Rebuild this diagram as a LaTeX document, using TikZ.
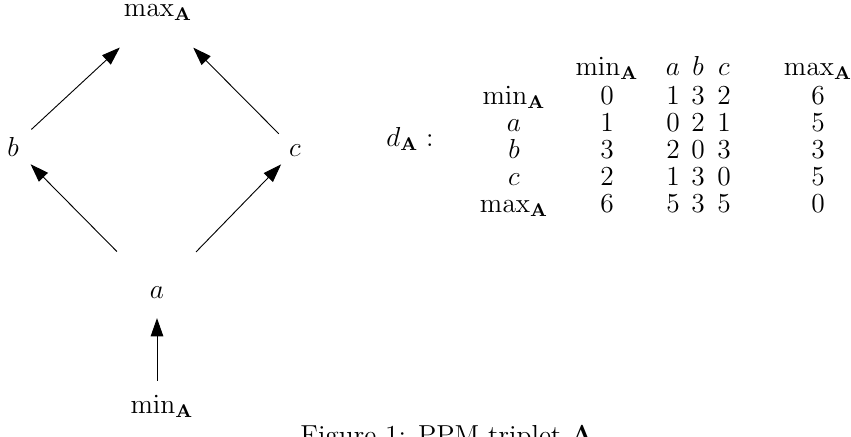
\documentclass[12pt,tikz,border=0pt]{standalone}
\usetikzlibrary{arrows.meta,calc}
\begin{document}
\begin{tikzpicture}[x=0.437pt,y=-0.437pt,
  lbl/.style={inner sep=0pt, anchor=base},
  arr/.style={-{Triangle[length=8pt,width=5.5pt]}, line width=0.4pt}]
\useasboundingbox (0,0) rectangle (851,436);
% Hasse diagram
\node[lbl] (mx) at (158,16) {$\max_{\mathbf{A}}$};
\node[lbl] (b) at (13,156) {$b$};
\node[lbl] (c) at (295,156) {$c$};
\node[lbl] (a) at (157,298) {$a$};
\node[lbl] (mn) at (162,413) {$\min_{\mathbf{A}}$};
\draw[arr, shorten <=25pt*0.437, shorten >=26pt*0.437] (a.center |- mn.center) -- (a.center);
\draw[arr, shorten <=57pt*0.437, shorten >=25pt*0.437] (a.center) -- (b.center);
\draw[arr, shorten <=56pt*0.437, shorten >=20pt*0.437] (a.center) -- (c.center);
\draw[arr, shorten <=25pt*0.437, shorten >=52pt*0.437] (b.center) -- (mx.center);
\draw[arr, shorten <=23pt*0.437, shorten >=50pt*0.437] (c.center) -- (mx.center);
% distance table
\node[lbl] (d) at (410,146) {$d_{\mathbf{A}}:$};
\node[lbl] (h1) at (607,75) {$\min_{\mathbf{A}}$};
\node[lbl] (h2) at (673,75) {$a$};
\node[lbl] (h3) at (698,75) {$b$};
\node[lbl] (h4) at (724,75) {$c$};
\node[lbl] (h5) at (818,75) {$\max_{\mathbf{A}}$};
\node[lbl] (r1) at (514,104) {$\min_{\mathbf{A}}$};
\node[lbl] (r2) at (514,131) {$a$};
\node[lbl] (r3) at (514,158) {$b$};
\node[lbl] (r4) at (514,185) {$c$};
\node[lbl] (r5) at (514,212) {$\max_{\mathbf{A}}$};
% row 1
\node[lbl] (t11) at (607,104) {$0$};
\node[lbl] (t12) at (673,104) {$1$};
\node[lbl] (t13) at (698,104) {$3$};
\node[lbl] (t14) at (724,104) {$2$};
\node[lbl] (t15) at (818,104) {$6$};
% row 2
\node[lbl] (t21) at (607,131) {$1$};
\node[lbl] (t22) at (673,131) {$0$};
\node[lbl] (t23) at (698,131) {$2$};
\node[lbl] (t24) at (724,131) {$1$};
\node[lbl] (t25) at (818,131) {$5$};
% row 3
\node[lbl] (t31) at (607,158) {$3$};
\node[lbl] (t32) at (673,158) {$2$};
\node[lbl] (t33) at (698,158) {$0$};
\node[lbl] (t34) at (724,158) {$3$};
\node[lbl] (t35) at (818,158) {$3$};
% row 4
\node[lbl] (t41) at (607,185) {$2$};
\node[lbl] (t42) at (673,185) {$1$};
\node[lbl] (t43) at (698,185) {$3$};
\node[lbl] (t44) at (724,185) {$0$};
\node[lbl] (t45) at (818,185) {$5$};
% row 5
\node[lbl] (t51) at (607,212) {$6$};
\node[lbl] (t52) at (673,212) {$5$};
\node[lbl] (t53) at (698,212) {$3$};
\node[lbl] (t54) at (724,212) {$5$};
\node[lbl] (t55) at (818,212) {$0$};
% caption (cut off at the bottom edge, as in the reference)
\node[inner sep=0pt, anchor=base west] (cap) at (300,444) {Figure 1: PPM triplet $\mathbf{A}$};
\end{tikzpicture}
\end{document}
